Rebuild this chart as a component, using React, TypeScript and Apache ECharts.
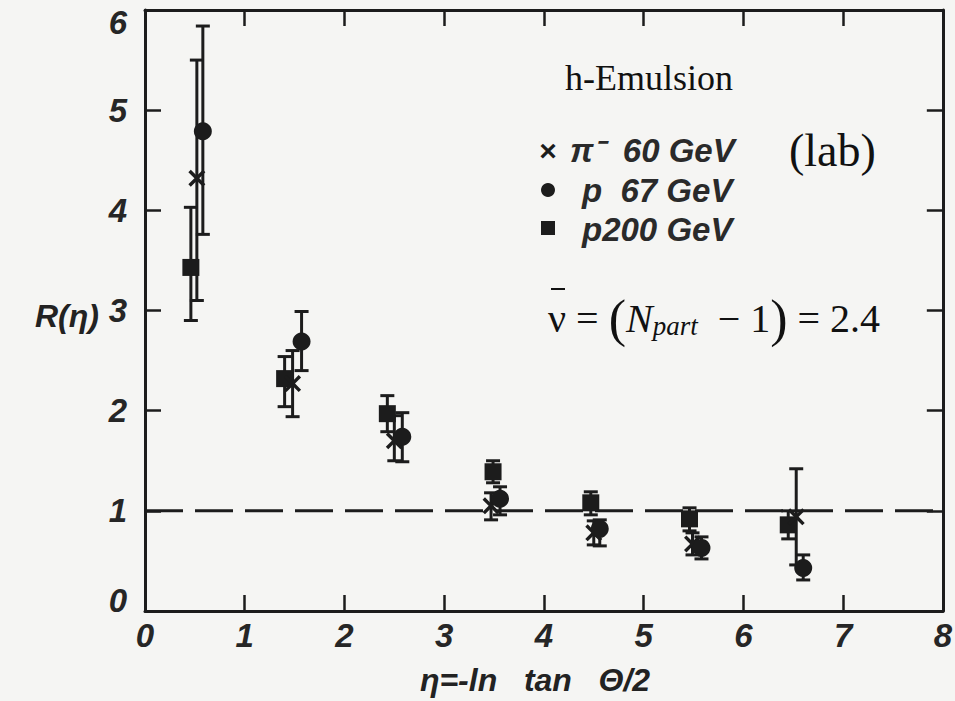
import React, { useEffect, useRef } from "react";
import * as echarts from "echarts";

// x-axis ticks and y-axis ticks
const xTicks = [0, 1, 2, 3, 4, 5, 6, 7, 8];
const yTicks = [0, 1, 2, 3, 4, 5, 6];

// pi- 60 GeV (crosses)
const etaPi = [0.52, 1.48, 2.5, 3.47, 4.5, 5.49, 6.53];
const rPi = [4.32, 2.27, 1.7, 1.05, 0.78, 0.67, 0.94];
const loPi = [3.1, 1.94, 1.5, 0.91, 0.66, 0.56, 0.46];
const hiPi = [5.5, 2.6, 1.95, 1.18, 0.9, 0.78, 1.42];

// p 67 GeV (circles)
const etaP67 = [0.58, 1.57, 2.58, 3.56, 4.56, 5.58, 6.6];
const rP67 = [4.79, 2.69, 1.74, 1.12, 0.82, 0.63, 0.43];
const loP67 = [3.76, 2.4, 1.49, 0.96, 0.65, 0.52, 0.31];
const hiP67 = [5.84, 2.99, 1.98, 1.24, 0.91, 0.74, 0.56];

// p 200 GeV (squares)
const etaP200 = [0.46, 1.4, 2.43, 3.49, 4.47, 5.46, 6.45];
const rP200 = [3.43, 2.32, 1.97, 1.39, 1.08, 0.92, 0.86];
const loP200 = [2.9, 2.04, 1.79, 1.28, 0.96, 0.8, 0.72];
const hiP200 = [4.03, 2.54, 2.15, 1.5, 1.19, 1.03, 1.0];

// reference line R = 1
const refLineX = [0, 8];
const refLineY = [1, 1];

const INK = "#1c1c1c";
const crossPath =
  "path://M0,2 L2,0 L7,5 L12,0 L14,2 L9,7 L14,12 L12,14 L7,9 L2,14 L0,12 L5,7 Z";

function errorSeries(eta: number[], lo: number[], hi: number[]) {
  return {
    type: "custom",
    silent: true,
    z: 3,
    data: eta.map((e, i) => [e, lo[i], hi[i]]),
    encode: { x: 0, y: [1, 2] },
    renderItem: (params: any, api: any) => {
      const x = api.value(0);
      const pTop = api.coord([x, api.value(2)]);
      const pBot = api.coord([x, api.value(1)]);
      const w = 7;
      const st = { stroke: INK, lineWidth: 3 };
      return {
        type: "group",
        children: [
          { type: "line", shape: { x1: pTop[0], y1: pTop[1], x2: pBot[0], y2: pBot[1] }, style: st },
          { type: "line", shape: { x1: pTop[0] - w, y1: pTop[1], x2: pTop[0] + w, y2: pTop[1] }, style: st },
          { type: "line", shape: { x1: pBot[0] - w, y1: pBot[1], x2: pBot[0] + w, y2: pBot[1] }, style: st },
        ],
      };
    },
  };
}

const tickFont = {
  fontFamily: "Liberation Sans",
  fontStyle: "italic" as const,
  fontWeight: "bold" as const,
  fontSize: 33,
  color: "#262626",
};

export default function App() {
  const ref = useRef<HTMLDivElement>(null);
  useEffect(() => {
    if (!ref.current) return;
    const chart = echarts.init(ref.current, null, { renderer: "svg" });
    const axisLine = { show: true, onZero: false, lineStyle: { color: INK, width: 3 } };
    const axisTick = { show: true, inside: true, length: 16, lineStyle: { color: INK, width: 2.5 } };
    const yMin = yTicks[0];
    const yMax = yTicks[yTicks.length - 1];
    chart.setOption({
      animation: false,
      backgroundColor: "#f5f5f3",
      grid: { left: 145, right: 4, top: 10, bottom: 90, show: false },
      xAxis: [
        {
          type: "value", position: "bottom", min: xTicks[0], max: xTicks[xTicks.length - 1], interval: 1,
          axisLine, axisTick, splitLine: { show: false },
          axisLabel: { ...tickFont, margin: 8 },
        },
        {
          type: "value", position: "top", min: xTicks[0], max: xTicks[xTicks.length - 1], interval: 1,
          axisLine, axisTick, splitLine: { show: false }, axisLabel: { show: false },
        },
      ],
      yAxis: [
        {
          type: "value", position: "left", min: yMin, max: yMax, interval: 1,
          axisLine, axisTick, splitLine: { show: false },
          axisLabel: {
            ...tickFont,
            margin: 18,
            formatter: (v: number) =>
              v === yMax ? `{top|${v}}` : v === yMin ? `{bot|${v}}` : `{n|${v}}`,
            rich: {
              top: { ...tickFont, padding: [24, 0, 0, 0] },
              bot: { ...tickFont, padding: [0, 0, 22, 0] },
              n: { ...tickFont },
            },
          },
        },
        {
          type: "value", position: "right", min: yMin, max: yMax, interval: 1,
          axisLine, axisTick, splitLine: { show: false }, axisLabel: { show: false },
        },
      ],
      series: [
        {
          type: "line",
          data: refLineX.map((x, i) => [x, refLineY[i]]),
          symbol: "none",
          silent: true,
          lineStyle: { color: INK, width: 3, type: [38, 12] },
          z: 2,
        },
        errorSeries(etaP200, loP200, hiP200),
        errorSeries(etaPi, loPi, hiPi),
        errorSeries(etaP67, loP67, hiP67),
        {
          name: "p200 GeV", type: "scatter", z: 4,
          data: etaP200.map((e, i) => [e, rP200[i]]),
          symbol: "rect", symbolSize: 17, itemStyle: { color: INK, opacity: 1 },
        },
        {
          name: "π⁻ 60 GeV", type: "scatter", z: 4,
          data: etaPi.map((e, i) => [e, rPi[i]]),
          symbol: crossPath, symbolSize: 17, itemStyle: { color: INK, opacity: 1 },
        },
        {
          name: "p 67 GeV", type: "scatter", z: 4,
          data: etaP67.map((e, i) => [e, rP67[i]]),
          symbol: "circle", symbolSize: 18, itemStyle: { color: INK, opacity: 1 },
        },
      ],
      graphic: [
        {
          type: "text", left: 35, top: 300,
          style: { text: "R(η)", font: "italic bold 32px 'Liberation Sans'", fill: "#222" },
        },
        {
          type: "text", x: 535, y: 680,
          style: {
            text: "η=-ln   tan   Θ/2", font: "italic bold 32px 'Liberation Sans'", fill: "#222",
            textAlign: "center", textVerticalAlign: "middle",
          },
        },
        {
          type: "text", x: 565, y: 78,
          style: { text: "h-Emulsion", font: "36px 'Liberation Serif'", fill: "#111", textVerticalAlign: "middle" },
        },
        // legend markers
        {
          type: "text", x: 548, y: 150,
          style: { text: "×", font: "bold 30px 'Liberation Sans'", fill: INK, textAlign: "center", textVerticalAlign: "middle" },
        },
        { type: "circle", shape: { cx: 548, cy: 190, r: 7 }, style: { fill: INK } },
        { type: "rect", shape: { x: 541, y: 221, width: 14, height: 14 }, style: { fill: INK } },
        // legend labels
        {
          type: "text", x: 570, y: 150,
          style: { text: "π⁻  60 GeV", font: "italic bold 33px 'Liberation Sans'", fill: "#2a2a2a", textVerticalAlign: "middle" },
        },
        {
          type: "text", x: 582, y: 190,
          style: { text: "p  67 GeV", font: "italic bold 33px 'Liberation Sans'", fill: "#2a2a2a", textVerticalAlign: "middle" },
        },
        {
          type: "text", x: 582, y: 229,
          style: { text: "p200 GeV", font: "italic bold 33px 'Liberation Sans'", fill: "#2a2a2a", textVerticalAlign: "middle" },
        },
        {
          type: "text", x: 789, y: 150,
          style: { text: "(lab)", font: "46px 'Liberation Serif'", fill: "#111", textVerticalAlign: "middle" },
        },
        // formula
        { type: "line", shape: { x1: 551, y1: 289, x2: 565, y2: 289 }, style: { stroke: "#111", lineWidth: 2 } },
        {
          type: "text", x: 548, y: 318,
          style: {
            text: "{t|ν = }{p|(}{n|N}{s|part}{t|  − 1}{p|)}{t| = 2.4}",
            textVerticalAlign: "middle",
            fill: "#111",
            rich: {
              t: { font: "40px 'Liberation Serif'", fill: "#111" },
              p: { font: "52px 'Liberation Serif'", fill: "#111" },
              n: { font: "italic 40px 'Liberation Serif'", fill: "#111" },
              s: { font: "italic 27px 'Liberation Serif'", fill: "#111", padding: [16, 0, 0, 0] },
            },
          },
        },
      ],
    });
    return () => chart.dispose();
  }, []);
  return (
    <div
      ref={ref}
      style={{ position: "fixed", left: 0, top: 0, width: 955, height: 701 }}
    />
  );
}
